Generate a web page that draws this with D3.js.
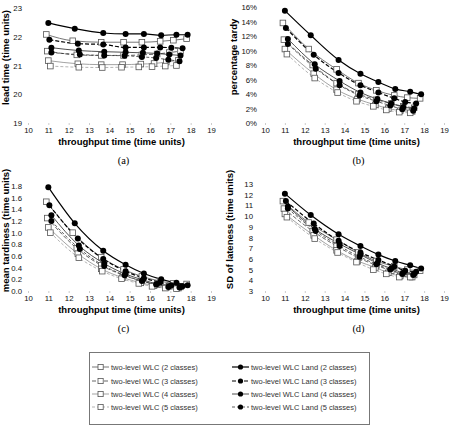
<!DOCTYPE html>
<html>
<head>
<meta charset="utf-8">
<script src="https://cdn.jsdelivr.net/npm/d3@7"></script>
<style>
body { margin: 0; background: #fff; }
text { font-family: "Liberation Sans", Arial, sans-serif; }
</style>
</head>
<body>
<div id="chart"></div>
<script>
let width = 455,
height = 432;

// series, same order in every panel
const seriesNames = [
  "two-level WLC (2 classes)", "two-level WLC (3 classes)",
  "two-level WLC (4 classes)", "two-level WLC (5 classes)",
  "two-level WLC Land (2 classes)", "two-level WLC Land (3 classes)",
  "two-level WLC Land (4 classes)", "two-level WLC Land (5 classes)"
];

// throughput time (x) per series
const throughput = [
  [10.9, 12.2, 13.6, 14.7, 15.6, 16.5, 17.15, 17.8],
  [10.95, 12.4, 13.6, 14.7, 15.6, 16.35, 16.95, 17.5],
  [11.0, 12.45, 13.6, 14.65, 15.55, 16.2, 16.8, 17.4],
  [11.1, 12.5, 13.65, 14.6, 15.45, 16.1, 16.75, 17.3],
  [11.0, 12.3, 13.7, 14.8, 15.7, 16.55, 17.3, 17.85],
  [11.05, 12.45, 13.7, 14.8, 15.7, 16.5, 17.05, 17.6],
  [11.15, 12.5, 13.75, 14.8, 15.65, 16.35, 16.95, 17.5],
  [11.15, 12.55, 13.75, 14.75, 15.6, 16.3, 16.9, 17.45]
];

// (a) lead time
const leadTime = [
  [22.08, 21.86, 21.81, 21.81, 21.81, 21.84, 21.88, 21.93],
  [21.5, 21.37, 21.35, 21.35, 21.37, 21.4, 21.45, 21.5],
  [21.17, 21.06, 21.03, 21.03, 21.05, 21.07, 21.12, 21.18],
  [20.98, 20.94, 20.93, 20.94, 20.95, 20.96, 20.98, 21.0],
  [22.48, 22.28, 22.13, 22.1, 22.1, 22.05, 22.07, 22.07],
  [21.9, 21.76, 21.73, 21.63, 21.63, 21.63, 21.62, 21.6],
  [21.62, 21.52, 21.48, 21.46, 21.44, 21.42, 21.38, 21.35],
  [21.45, 21.38, 21.35, 21.34, 21.3, 21.26, 21.2, 21.15]
];

// (b) percentage tardy (%)
const pctTardy = [
  [13.8, 10.2, 7.4, 5.5, 4.5, 3.8, 3.5, 3.4],
  [11.5, 8.0, 5.5, 4.0, 3.2, 2.7, 2.3, 2.1],
  [10.2, 6.8, 4.6, 3.3, 2.5, 2.0, 1.7, 1.6],
  [9.5, 6.2, 4.2, 3.0, 2.3, 1.8, 1.5, 1.4],
  [15.5, 12.1, 8.7, 6.8, 5.65, 4.7, 4.3, 3.95],
  [13.1, 9.4, 6.9, 5.2, 4.2, 3.4, 2.9, 2.7],
  [11.6, 8.1, 5.8, 4.2, 3.3, 2.7, 2.2, 2.0],
  [10.9, 7.5, 5.2, 3.8, 3.0, 2.4, 1.9, 1.7]
];

// (c) mean tardiness
const meanTardiness = [
  [1.53, 1.0, 0.58, 0.37, 0.25, 0.17, 0.13, 0.12],
  [1.25, 0.73, 0.44, 0.27, 0.17, 0.11, 0.08, 0.07],
  [1.09, 0.64, 0.38, 0.23, 0.14, 0.09, 0.06, 0.05],
  [1.0, 0.57, 0.34, 0.21, 0.13, 0.08, 0.05, 0.04],
  [1.78, 1.16, 0.69, 0.45, 0.30, 0.20, 0.14, 0.10],
  [1.47, 0.9, 0.55, 0.34, 0.22, 0.15, 0.10, 0.08],
  [1.3, 0.78, 0.47, 0.29, 0.19, 0.12, 0.08, 0.07],
  [1.2, 0.72, 0.43, 0.27, 0.17, 0.11, 0.07, 0.06]
];

// (d) SD of lateness
const sdLateness = [
  [11.4, 9.4, 7.8, 6.6, 5.8, 5.3, 5.0, 4.9],
  [10.7, 8.6, 7.2, 6.1, 5.4, 4.9, 4.6, 4.5],
  [10.2, 8.2, 6.8, 5.8, 5.2, 4.7, 4.4, 4.3],
  [9.9, 7.9, 6.6, 5.7, 5.0, 4.6, 4.3, 4.3],
  [12.1, 10.1, 8.3, 7.2, 6.4, 5.8, 5.4, 5.1],
  [11.4, 9.3, 7.7, 6.6, 5.9, 5.3, 4.9, 4.8],
  [10.9, 8.8, 7.4, 6.4, 5.6, 5.1, 4.7, 4.6],
  [10.7, 8.6, 7.2, 6.2, 5.5, 5.0, 4.6, 4.5]
];

const xTicks = [10, 11, 12, 13, 14, 15, 16, 17, 18, 19];
const leadTicks = [19, 20, 21, 22, 23];
const tardyTicks = [0, 2, 4, 6, 8, 10, 12, 14, 16];
const meanTicks = [0, 0.2, 0.4, 0.6, 0.8, 1.0, 1.2, 1.4, 1.6, 1.8];
const sdTicks = [3, 4, 5, 6, 7, 8, 9, 10, 11, 12, 13];

// line look per series
const lineStyle = [
  { stroke: "#666", dash: null, w: 0.9 },
  { stroke: "#555", dash: "4,2", w: 0.9 },
  { stroke: "#999", dash: null, w: 0.9 },
  { stroke: "#aaa", dash: "3,2", w: 0.9 },
  { stroke: "#000", dash: null, w: 1.2 },
  { stroke: "#000", dash: "4,2", w: 1.2 },
  { stroke: "#222", dash: null, w: 0.8 },
  { stroke: "#333", dash: "3,2", w: 0.8 }
];

let svg = d3.select("#chart")
  .append("svg")
  .attr("width", width)
  .attr("height", height);

const panels = [
  { label: "(a)", values: leadTime, ticks: leadTicks, fmt: d3.format("d"), title: "lead time (time units)",
    x0: 28, x1: 211, yTop: 8, yBot: 123, pad: 6, titleX: 5, lblY: 160 },
  { label: "(b)", values: pctTardy, ticks: tardyTicks, fmt: d => d + "%", title: "percentage tardy",
    x0: 265, x1: 444, yTop: 7, yBot: 123, pad: 8, titleX: 233, lblY: 160 },
  { label: "(c)", values: meanTardiness, ticks: meanTicks, fmt: d3.format(".1f"), title: "mean tardiness (time units)",
    x0: 28, x1: 211, yTop: 186, yBot: 291, pad: 6, titleX: 5, lblY: 328 },
  { label: "(d)", values: sdLateness, ticks: sdTicks, fmt: d3.format("d"), title: "SD of lateness (time units)",
    x0: 265, x1: 444, yTop: 184, yBot: 291, pad: 12, titleX: 229, lblY: 328 }
];

panels.forEach(p => {
  let g = svg.append("g").attr("class", "panel");

  let x = d3.scaleLinear().domain([10, 19]).range([p.x0, p.x1]);
  let y = d3.scaleLinear().domain(d3.extent(p.ticks)).range([p.yBot, p.yTop]);

  // x axis: faint ticks, labels below
  let xa = g.append("g")
    .attr("transform", `translate(0,${p.yBot})`)
    .call(d3.axisBottom(x).tickValues(xTicks).tickSize(2).tickPadding(2));
  xa.select(".domain").remove();
  xa.selectAll("line").attr("stroke", "#ccc");
  xa.selectAll("text").style("font-size", "7.8px").attr("fill", "#111");

  let ya = g.append("g")
    .attr("transform", `translate(${p.x0},0)`)
    .call(d3.axisLeft(y).tickValues(p.ticks).tickFormat(p.fmt).tickSize(0).tickPadding(p.pad));
  ya.select(".domain").remove();
  ya.selectAll("text").style("font-size", "7.8px").attr("fill", "#111");

  // axis titles
  g.append("text")
    .attr("x", (p.x0 + p.x1) / 2 + 2)
    .attr("y", p.yBot + 22)
    .attr("text-anchor", "middle")
    .style("font-size", "9.5px").style("font-weight", "bold")
    .text("throughput time (time units)");

  g.append("text")
    .attr("transform", `translate(${p.titleX + 4},${(p.yTop + p.yBot) / 2 - 8}) rotate(-90)`)
    .attr("text-anchor", "middle")
    .style("font-size", "9.5px").style("font-weight", "bold")
    .text(p.title);

  g.append("text")
    .attr("x", (p.x0 + p.x1) / 2 + 4)
    .attr("y", p.lblY + 4)
    .attr("text-anchor", "middle")
    .style("font-family", "'Liberation Serif', 'Times New Roman', serif")
    .style("font-size", "10.5px")
    .text(p.label);

  let line = d3.line()
    .x(d => x(d[0]))
    .y(d => y(d[1]))
    .curve(d3.curveMonotoneX);

  let pts = p.values.map((vals, i) => vals.map((v, j) => [throughput[i][j], v]));

  pts.forEach((s, i) => {
    g.append("path")
      .datum(s)
      .attr("d", line)
      .attr("fill", "none")
      .attr("stroke", lineStyle[i].stroke)
      .attr("stroke-width", lineStyle[i].w)
      .attr("stroke-dasharray", lineStyle[i].dash);
  });

  // squares (WLC) then circles (WLC Land)
  pts.forEach((s, i) => {
    if (i < 4) {
      g.selectAll(null).data(s).join("rect")
        .attr("x", d => x(d[0]) - 2.8)
        .attr("y", d => y(d[1]) - 2.8)
        .attr("width", 5.6).attr("height", 5.6)
        .attr("fill", "#fff")
        .attr("stroke", "#555")
        .attr("stroke-width", 0.8);
    }
  });
  pts.forEach((s, i) => {
    if (i >= 4) {
      g.selectAll(null).data(s).join("circle")
        .attr("cx", d => x(d[0]))
        .attr("cy", d => y(d[1]))
        .attr("r", 3)
        .attr("fill", "#000");
    }
  });
});

// Handmade legend
let lg = svg.append("g").attr("class", "legend");
lg.append("rect")
  .attr("x", 89.5).attr("y", 352.5)
  .attr("width", 280).attr("height", 72)
  .attr("fill", "#fff").attr("stroke", "#777").attr("stroke-width", 1);

const rowY = [367, 381, 394, 407];
seriesNames.forEach((name, i) => {
  let col = i < 4 ? 0 : 1;
  let row = i % 4;
  let lx = col === 0 ? 92 : 232;
  let cy = rowY[row];
  lg.append("line")
    .attr("x1", lx).attr("x2", lx + 17)
    .attr("y1", cy).attr("y2", cy)
    .attr("stroke", lineStyle[i].stroke)
    .attr("stroke-width", lineStyle[i].w)
    .attr("stroke-dasharray", lineStyle[i].dash);
  if (col === 0) {
    lg.append("rect")
      .attr("x", lx + 6).attr("y", cy - 2.6)
      .attr("width", 5.2).attr("height", 5.2)
      .attr("fill", "#fff").attr("stroke", "#555").attr("stroke-width", 0.8);
  } else {
    lg.append("circle").attr("cx", lx + 8.5).attr("cy", cy).attr("r", 2.6).attr("fill", "#000");
  }
  lg.append("text")
    .attr("x", lx + 19).attr("y", cy + 2.6)
    .style("font-size", "7.5px")
    .attr("fill", "#333")
    .text(name);
});
</script>
</body>
</html>
